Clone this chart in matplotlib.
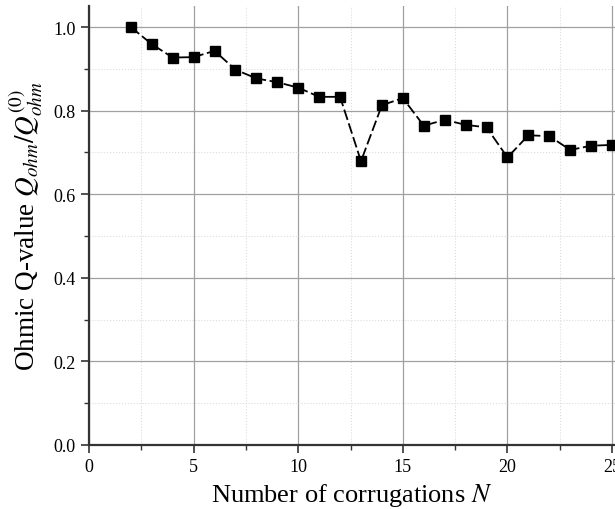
import matplotlib
matplotlib.use('Agg')
import matplotlib.pyplot as plt
from matplotlib.ticker import MultipleLocator

# corrugation count and normalised ohmic Q
n_corr = [2, 3, 4, 5, 6, 7, 8, 9, 10, 11, 12, 13, 14, 15, 16, 17, 18, 19, 20, 21, 22, 23, 24, 25]
q_ratio = [1.000, 0.959, 0.927, 0.928, 0.943, 0.898, 0.877, 0.868, 0.855, 0.833, 0.833, 0.679,
           0.813, 0.830, 0.764, 0.778, 0.766, 0.760, 0.688, 0.741, 0.739, 0.706, 0.716, 0.718]

plt.rcParams['font.family'] = ['Liberation Serif', 'DejaVu Serif']
plt.rcParams['mathtext.fontset'] = 'stix'

fig = plt.figure(figsize=(6.15, 5.1), dpi=100)
ax = fig.add_axes([0.1447, 0.1255, 0.8553, 0.8605])

ax.plot(n_corr, q_ratio, color='black', linestyle=(0, (6, 2)), linewidth=1.3,
        marker='s', markersize=7.5, markerfacecolor='black', markeredgecolor='black')

ax.set_xlim(0, 25.14)
ax.set_ylim(0, 1.05)
ax.xaxis.set_major_locator(MultipleLocator(5))
ax.xaxis.set_minor_locator(MultipleLocator(2.5))
ax.yaxis.set_major_locator(MultipleLocator(0.2))
ax.yaxis.set_minor_locator(MultipleLocator(0.1))
ax.yaxis.set_major_formatter(plt.FuncFormatter(lambda v, p: '%.1f' % v))

ax.grid(True, which='major', color='#a0a0a0', linewidth=0.9)
ax.grid(True, which='minor', color='#dcdcdc', linewidth=0.8, linestyle=':')
ax.set_axisbelow(True)

for s in ['top', 'right']:
    ax.spines[s].set_visible(False)
for s in ['left', 'bottom']:
    ax.spines[s].set_linewidth(1.6)
    ax.spines[s].set_color('#333333')

ax.tick_params(which='major', direction='out', length=6, width=1.2, labelsize=13, color='#333333')
ax.tick_params(which='minor', direction='out', length=3.5, width=1.0, color='#333333')

ax.set_xlabel('Number of corrugations $N$', fontsize=19, labelpad=4)
ax.set_ylabel('Ohmic Q-value $Q_{ohm}/Q_{ohm}^{(0)}$', fontsize=19.5, labelpad=6)

fig.savefig('out.png', dpi=100)
